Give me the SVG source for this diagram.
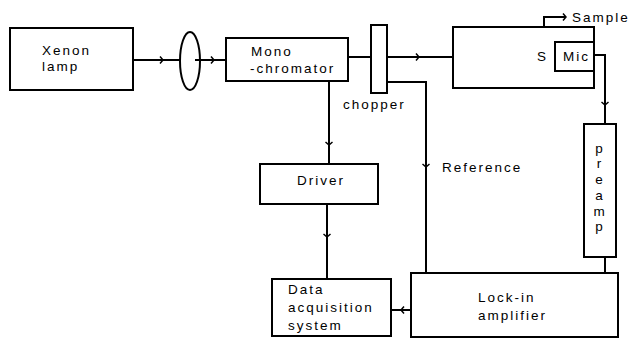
<svg xmlns="http://www.w3.org/2000/svg" width="629" height="339" viewBox="0 0 629 339">
<style>
.box{fill:#fff;stroke:#000;stroke-width:2}
.ln{fill:none;stroke:#000;stroke-width:2}
.ar{fill:none;stroke:#000;stroke-width:1.5}
text{font-family:"Liberation Sans",Arial,sans-serif;font-size:13.5px;fill:#000;letter-spacing:2px}
</style>
<defs>
<path id="chev" class="ar" d="M-3,-3.5 L0,0 L-3,3.5"/>
</defs>
<rect width="629" height="339" fill="#fff"/>
<g id="connectors">
<path class="ln" d="M133,60 H180"/>
<path class="ln" d="M195,60 H226"/>
<path class="ln" d="M348,57 H371"/>
<path class="ln" d="M387,57 H453"/>
<path class="ln" d="M387,82 H426 V273"/>
<path class="ln" d="M329,81 V164"/>
<path class="ln" d="M327,204 V279"/>
<path class="ln" d="M411,310 H392"/>
<path class="ln" d="M544,43 V17 H565"/>
<path class="ln" d="M594,55 H605 V124"/>
<path class="ln" d="M605,257 V273"/>
<use href="#chev" transform="translate(163,60)"/>
<use href="#chev" transform="translate(214,60)"/>
<use href="#chev" transform="translate(419,57)"/>
<use href="#chev" transform="translate(566,17)"/>
<use href="#chev" transform="translate(329,145) rotate(90)"/>
<use href="#chev" transform="translate(327,237) rotate(90)"/>
<use href="#chev" transform="translate(426,167) rotate(90)"/>
<use href="#chev" transform="translate(605,105) rotate(90)"/>
<use href="#chev" transform="translate(401,310) rotate(180)"/>
</g>
<g id="xenon">
<rect class="box" x="10" y="28" width="123" height="62"/>
<text x="42" y="55">Xenon</text>
<text x="42" y="71">lamp</text>
</g>
<g id="lens">
<ellipse class="ln" cx="190" cy="61" rx="10" ry="29"/>
</g>
<g id="mono">
<rect class="box" x="226" y="38" width="122" height="43"/>
<text x="251" y="56">Mono</text>
<text x="250" y="73">-chromator</text>
</g>
<g id="chopper">
<rect class="box" x="371" y="25" width="16" height="68"/>
<text x="343" y="109">chopper</text>
</g>
<g id="sample">
<rect class="box" x="453" y="27" width="141" height="61"/>
<text x="537" y="61">S</text>
<text x="572" y="22">Sample</text>
</g>
<g id="mic">
<rect class="box" x="555" y="42" width="39" height="29"/>
<text x="563" y="61">Mic</text>
</g>
<g id="driver">
<rect class="box" x="260" y="164" width="118" height="40"/>
<text x="297" y="185">Driver</text>
</g>
<g id="reference">
<text x="442" y="172">Reference</text>
</g>
<g id="preamp">
<rect class="box" x="584" y="124" width="32" height="133"/>
<g text-anchor="middle" style="letter-spacing:0">
<text x="600" y="153">p</text>
<text x="600" y="168">r</text>
<text x="600" y="184">e</text>
<text x="600" y="200">a</text>
<text x="600" y="216">m</text>
<text x="600" y="231">p</text>
</g>
</g>
<g id="data">
<rect class="box" x="272" y="279" width="119" height="57"/>
<text x="288" y="294">Data</text>
<text x="288" y="312">acquisition</text>
<text x="288" y="330">system</text>
</g>
<g id="lockin">
<rect class="box" x="411" y="273" width="207" height="64"/>
<text x="478" y="302">Lock-in</text>
<text x="478" y="320">amplifier</text>
</g>
</svg>
